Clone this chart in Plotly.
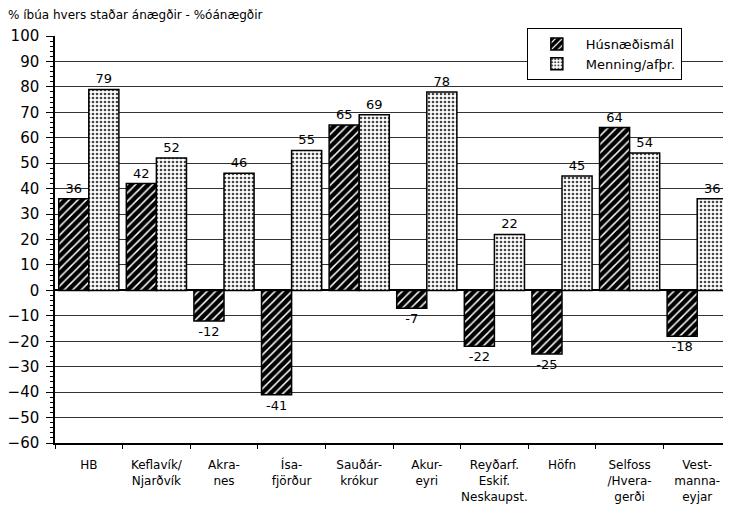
import plotly.graph_objects as go

categories = ["HB", "Keflavík/<br>Njarðvík", "Akra-<br>nes", "Ísa-<br>fjörður", "Sauðár-<br>krókur",
              "Akur-<br>eyri", "Reyðarf.<br>Eskif.<br>Neskaupst.", "Höfn", "Selfoss<br>/Hvera-<br>gerði",
              "Vest-<br>manna-<br>eyjar"]
husnaedi = [36, 42, -12, -41, 65, -7, -22, -25, 64, -18]
menning = [79, 52, 46, 55, 69, 78, 22, 45, 54, 36]
series_names = ["Húsnæðismál", "Menning/afþr."]
title_text = "% íbúa hvers staðar ánægðir - %óánægðir"
y_ticks = list(range(-60, 101, 10))

font_family = "DejaVu Sans, Liberation Sans, sans-serif"

fig = go.Figure()
fig.add_trace(go.Bar(
    x=categories, y=husnaedi, name=series_names[0],
    text=[str(v) for v in husnaedi], textposition="outside",
    textfont=dict(size=13, color="black", family=font_family),
    cliponaxis=False,
    marker=dict(color="black", line=dict(color="black", width=1.5),
                pattern=dict(shape="/", fgcolor="white", bgcolor="black",
                             fillmode="replace", size=6, solidity=0.25)),
))
fig.add_trace(go.Bar(
    x=categories, y=menning, name=series_names[1],
    text=[str(v) for v in menning], textposition="outside",
    textfont=dict(size=13, color="black", family=font_family),
    cliponaxis=False,
    marker=dict(color="white", line=dict(color="black", width=1.5),
                pattern=dict(shape=".", fgcolor="#444", bgcolor="white",
                             fillmode="replace", size=4, solidity=0.35)),
))

# page has an 8px body margin; figure is 723x516 placed at (8,8)
# plot height = 516 - 20 - 81 = 415; axis top 8 px below figure top margin
fig.update_layout(
    width=723, height=516,
    margin=dict(l=47, r=0, t=20, b=81, autoexpand=False),
    paper_bgcolor="white", plot_bgcolor="white",
    barmode="group", bargap=0.11, bargroupgap=0,
    font=dict(family=font_family, size=12, color="black"),
    title=dict(text=title_text, x=0.0, xanchor="left", xref="container",
               y=0.995, yanchor="top", font=dict(size=12, color="black")),
    legend=dict(x=0.698, y=1.0, xanchor="left", yanchor="top",
                bgcolor="white", bordercolor="black", borderwidth=1,
                font=dict(size=13), traceorder="normal",
                itemwidth=48, tracegroupgap=2),
    showlegend=True,
)
fig.update_yaxes(
    domain=[0, 1 - 8 / 415], automargin=False,
    range=[-60, 100], tickvals=y_ticks, ticks="outside", ticklen=7, tickwidth=1,
    tickcolor="black", showline=True, linecolor="black", linewidth=1.5,
    showgrid=True, gridcolor="#333", gridwidth=1,
    zeroline=True, zerolinecolor="black", zerolinewidth=2,
    tickfont=dict(size=15, color="black", family=font_family),
    ticklabelstandoff=4,
    minor=dict(dtick=2, ticks="outside", ticklen=3, tickcolor="black", showgrid=False),
)
fig.update_xaxes(
    automargin=False, tickangle=0,
    showline=True, linecolor="black", linewidth=2,
    ticks="outside", tickson="boundaries", ticklen=4, tickcolor="black",
    showgrid=False, tickfont=dict(size=12, color="black", family=font_family),
    ticklabelstandoff=10,
)

fig.write_html("out.html")
